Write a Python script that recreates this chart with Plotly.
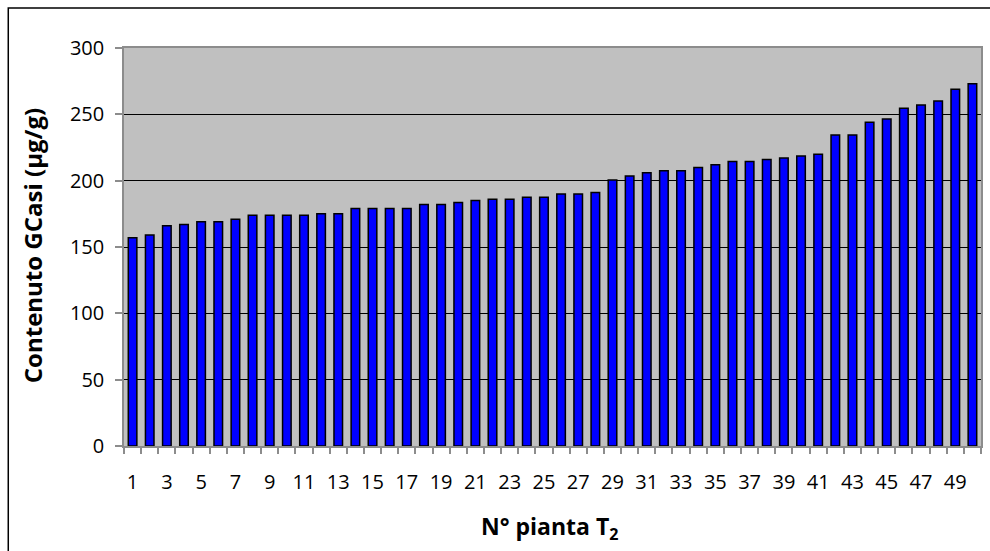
import plotly.graph_objects as go

# GCasi content per plant, sorted ascending
piante = list(range(1, 51))
contenuto = [157, 159, 166, 167, 169, 169, 171, 174, 174, 174,
             174, 175, 175, 179, 179, 179, 179, 182, 182, 183.5,
             185, 186, 186, 187.5, 187.5, 190, 190, 191, 200.5, 203.5,
             206, 207.5, 207.5, 210, 212, 214.5, 214.5, 216, 217, 218.5,
             220, 234.5, 234.5, 244, 246.5, 254.5, 257, 260, 269, 273]
y_ticks = [0, 50, 100, 150, 200, 250, 300]
x_labels = list(range(1, 50, 2))

W, H = 990, 551
L, R, T, B = 124, 7, 48, 105
pw, ph = W - L - R, H - T - B

FONT = "Open Sans"
GRAY = "#8c8c8c"

fig = go.Figure(go.Bar(
    x=piante, y=contenuto, width=0.5,
    marker=dict(color="#0000FF", line=dict(color="#000000", width=1.5)),
))

fig.update_layout(
    width=W, height=H,
    margin=dict(l=L, r=R, t=T, b=B),
    paper_bgcolor="white", plot_bgcolor="#C0C0C0",
    showlegend=False,
    font=dict(family=FONT, size=20, color="#000000"),
    xaxis=dict(
        range=[0.5, 50.5], tickmode="array", tickvals=x_labels,
        ticks="", showgrid=False, zeroline=False,
        showline=True, linecolor=GRAY, linewidth=1.5, mirror=True,
        tickfont=dict(family=FONT, size=20), ticklabelstandoff=17,
        minor=dict(tickmode="array", tickvals=[i + 0.5 for i in range(51)],
                   ticks="outside", ticklen=6, tickcolor=GRAY, tickwidth=1.5,
                   showgrid=False),
    ),
    yaxis=dict(
        range=[0, 300], tickmode="array", tickvals=y_ticks,
        ticks="outside", ticklen=7, tickcolor=GRAY, tickwidth=1.5,
        showgrid=True, gridcolor="#000000", gridwidth=1.2,
        zeroline=False,
        showline=True, linecolor=GRAY, linewidth=1.5, mirror=True,
        tickfont=dict(family=FONT, size=20), ticklabelstandoff=7,
    ),
)

# axis titles
fig.add_annotation(text="<b>N° pianta T<sub>2</sub></b>", xref="paper", yref="paper",
                   x=(550 - L) / pw, y=-(527 - T - ph) / ph,
                   showarrow=False, font=dict(family=FONT, size=23),
                   xanchor="center", yanchor="middle")
fig.add_annotation(text="<b>Contenuto GCasi (µg/g)</b>", xref="paper", yref="paper",
                   x=(32 - L) / pw, y=(T + ph - 246) / ph, textangle=-90,
                   showarrow=False, font=dict(family=FONT, size=24),
                   xanchor="center", yanchor="middle")

# outer chart frame
fig.add_shape(type="rect", xref="paper", yref="paper",
              x0=(8 - L) / pw, x1=(W + 10 - L) / pw,
              y0=-(H + 10 - T - ph) / ph, y1=(T + ph - 8) / ph,
              line=dict(color="#000000", width=1.5), layer="below")

fig.write_html("out.html")
